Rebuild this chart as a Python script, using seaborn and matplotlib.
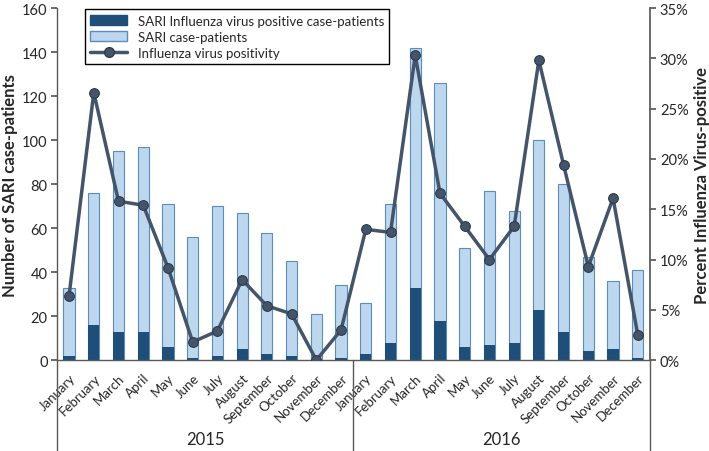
import numpy as np
import pandas as pd
import seaborn as sns
import matplotlib.pyplot as plt
from matplotlib.patches import Patch
from matplotlib.lines import Line2D
from matplotlib.ticker import FuncFormatter
import matplotlib.transforms as mtransforms

#%% datos
years = ["2015", "2016"]
months = ["January", "February", "March", "April", "May", "June", "July",
          "August", "September", "October", "November", "December"]

sari_2015 = [33, 76, 95, 97, 71, 56, 70, 67, 58, 45, 21, 34]
sari_2016 = [26, 71, 142, 126, 51, 77, 68, 100, 80, 47, 36, 41]
flu_2015 = [2, 16, 13, 13, 6, 1, 2, 5, 3, 2, 0, 1]
flu_2016 = [3, 8, 33, 18, 6, 7, 8, 23, 13, 4, 5, 1]
pos_2015 = [6.4, 26.6, 15.8, 15.4, 9.2, 1.8, 2.9, 8.0, 5.4, 4.6, 0.0, 3.0]
pos_2016 = [13.0, 12.7, 30.3, 16.6, 13.3, 10.0, 13.3, 29.8, 19.4, 9.3, 16.1, 2.5]

df = pd.DataFrame({
    "idx": np.arange(24),
    "mes": months * 2,
    "sari": sari_2015 + sari_2016,
    "flu": flu_2015 + flu_2016,
    "pos": pos_2015 + pos_2016,
})

light = "#BDD7EE"
light_edge = "#5B8DB8"
dark = "#1F4E79"
line_c = "#44546A"

sns.set_theme(style="white")
plt.rcParams["font.family"] = ["Lato", "DejaVu Sans"]

fig = plt.figure(figsize=(7.09, 4.52), dpi=100)
ax = fig.add_axes([0.081, 0.201, 0.836, 0.779])

sns.barplot(data=df, x="idx", y="sari", color=light, saturation=1, width=0.45,
            edgecolor=light_edge, linewidth=0.8, ax=ax)
sns.barplot(data=df, x="idx", y="flu", color=dark, saturation=1, width=0.45,
            linewidth=0, ax=ax)

ax.set_ylim(0, 160)
ax.set_xlim(-0.47, 23.5)
ax.set_yticks(range(0, 161, 20))
ax.set_xticks(range(24))
ax.set_xticklabels(df["mes"], rotation=45, ha="right", va="top",
                   rotation_mode="anchor", fontsize=9.5)
ax.set_xlabel("")
ax.set_ylabel("Number of SARI case-patients", fontsize=12, fontweight="bold", labelpad=3)
ax.tick_params(axis="y", labelsize=10.5, length=4, direction="out", left=True,
               color="#595959", pad=3)
ax.tick_params(axis="x", length=0, pad=8)
for s in ["top", "right"]:
    ax.spines[s].set_visible(False)
for s in ["left", "bottom"]:
    ax.spines[s].set_color("#595959")
    ax.spines[s].set_linewidth(1)

ax2 = ax.twinx()
sns.lineplot(data=df, x="idx", y="pos", color=line_c, linewidth=2.5, marker="o",
             markersize=7, markerfacecolor=line_c, markeredgecolor="#2E3A48",
             markeredgewidth=0.8, ax=ax2)
ax2.set_ylim(0, 35)
ax2.set_yticks(range(0, 36, 5))
ax2.yaxis.set_major_formatter(FuncFormatter(lambda v, p: f"{v:.0f}%"))
ax2.set_ylabel("Percent Influenza Virus-positive", fontsize=12, fontweight="bold", labelpad=4)
ax2.tick_params(axis="y", labelsize=10.5, length=4, direction="out", right=True,
                color="#595959", pad=3)
ax2.spines["top"].set_visible(False)
ax2.spines["left"].set_visible(False)
ax2.spines["bottom"].set_visible(False)
ax2.spines["right"].set_color("#595959")
ax2.set_xlim(ax.get_xlim())

# separadores de años y etiquetas
trans = mtransforms.blended_transform_factory(ax.transData, ax.transAxes)
x_lo, x_hi = ax.get_xlim()
for xs in [x_lo, 11.5, x_hi]:
    ax.plot([xs, xs], [0, -0.26], transform=trans, color="#595959", lw=1, clip_on=False)
for i, yr in enumerate(years):
    ax.text(i * 12 + 5.5, -0.224, yr, transform=trans, ha="center", va="center", fontsize=12)

handles = [Patch(facecolor=dark, edgecolor=dark, label="SARI Influenza virus positive case-patients"),
           Patch(facecolor=light, edgecolor=light_edge, label="SARI case-patients"),
           Line2D([], [], color=line_c, lw=2.5, marker="o", markersize=7,
                  markeredgecolor="#2E3A48", label="Influenza virus positivity")]
leg = ax2.legend(handles=handles, loc="upper left", bbox_to_anchor=(0.035, 1.015),
                 fontsize=9.5, frameon=True, fancybox=False, edgecolor="black",
                 framealpha=1, borderpad=0.4, labelspacing=0.3, handlelength=2.8)
leg.get_frame().set_linewidth(1)

fig.savefig("out.png", dpi=100)
